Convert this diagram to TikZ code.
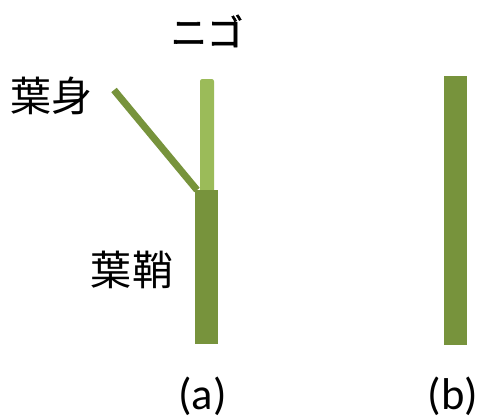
\documentclass[tikz,border=0pt]{standalone}
\usepackage{fontspec}
\setmainfont{Carlito}
\newfontfamily\jpfont{Noto Sans CJK JP}
\newfontfamily\jpheavy[FakeBold=1.5]{Noto Sans CJK JP}
\usetikzlibrary{positioning}
\definecolor{sheathgreen}{HTML}{77933C}
\definecolor{nigogreen}{HTML}{9BBB59}

\begin{document}
\begin{tikzpicture}[
  x=0.03cm, y=-0.03cm,
  bar/.style={fill=sheathgreen, inner sep=0, outer sep=0, minimum width=0.69cm},
  nigo/.style={fill=nigogreen, inner sep=0, outer sep=0, minimum width=0.42cm, rounded corners=2pt},
  jplabel/.style={font=\jpfont\fontsize{35}{40}\selectfont, inner sep=0},
  caption/.style={font=\fontsize{38}{42}\selectfont, inner sep=0}
]
  \useasboundingbox (0,0) rectangle (480,416);
  % plant (a): blade, nigo and sheath
  \coordinate (bladetip) at (114,90);
  \node[nigo, minimum height=3.45cm, anchor=north] (nigoa) at (207,79) {};
  \node[bar, minimum height=4.62cm, anchor=north] (sheath) at (206.5,190) {};
  \draw[sheathgreen, line width=0.21cm] (bladetip) -- ([xshift=0.06cm]sheath.north west);
  % plant (b): sheath only
  \node[bar, minimum height=8.07cm, anchor=north] (sheathb) at (455.5,76) {};
  % labels
  \node[jplabel, font=\jpheavy\fontsize{31}{36}\selectfont] (nigotext) at (207,31) {ニゴ};
  \node[jplabel] (bladetext) at (52,96) {葉身};
  \node[jplabel] (sheathtext) at (132,270) {葉鞘};
  \node[caption, anchor=base] (capa) at (202.5,409) {(a)};
  \node[caption, anchor=base] (capb) at (453,409) {(b)};
\end{tikzpicture}
\end{document}
